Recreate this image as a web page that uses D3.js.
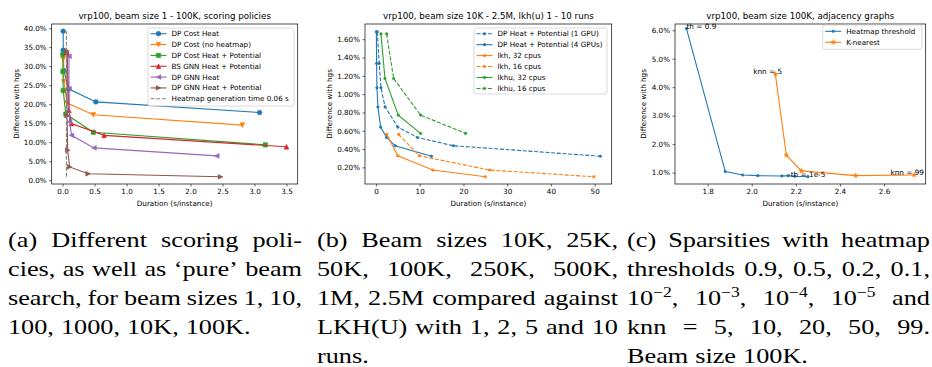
<!DOCTYPE html>
<html>
<head>
<meta charset="utf-8">
<script src="https://cdn.jsdelivr.net/npm/d3@7"></script>
<style>
  body { margin: 0; background: #fff; }
  svg text { font-family: 'DejaVu Sans', sans-serif; }
  .axis text { font-size: 7.2px; fill: #000; }
  .axis line { stroke: #000; stroke-width: 0.6; }
  svg text.caption { font-family: 'Liberation Serif', serif; font-size: 21px; fill: #000; }
</style>
</head>
<body>
<script>
// ---- (a) scoring policies, duration (s) vs gap (%)
const costHeatX = [0.01, 0.01, 0.02, 0.10, 0.52, 3.08];
const costHeatY = [39.2, 34.2, 28.8, 24.0, 20.6, 17.8];
const costNoHeatX = [0.005, 0.01, 0.02, 0.07, 0.48, 2.81];
const costNoHeatY = [32.8, 31.8, 25.9, 20.3, 17.2, 14.5];
const costPotX = [0.005, 0.005, 0.01, 0.05, 0.48, 3.17];
const costPotY = [33.1, 28.6, 23.6, 17.4, 12.6, 9.3];
const bsGnnPotX = [0.06, 0.07, 0.10, 0.14, 0.65, 3.50];
const bsGnnPotY = [34.0, 33.6, 18.4, 14.9, 11.8, 8.8];
const gnnHeatX = [0.10, 0.10, 0.11, 0.14, 0.49, 2.41];
const gnnHeatY = [32.6, 24.1, 15.4, 11.8, 8.5, 6.4];
const gnnPotX = [0.07, 0.07, 0.08, 0.11, 0.40, 2.47];
const gnnPotY = [34.0, 17.0, 7.9, 3.5, 1.7, 0.9];
const heatmapTime = 0.06;

// ---- (b) beam sizes vs lkh(u)
const gpu1X = [0.3, 0.76, 1.15, 2.1, 5.0, 9.5, 17.7, 51.3];
const gpu4X = [0.1, 0.15, 0.23, 0.46, 1.07, 2.44, 4.4, 12.7];
const gpuY = [1.68, 1.335, 1.07, 0.86, 0.64, 0.527, 0.436, 0.322];
const lkh32X = [2.5, 5.0, 13.0, 25.0];
const lkh16X = [5.2, 9.9, 26.0, 49.8];
const lkhY = [0.56, 0.327, 0.171, 0.098];
const lkhu32X = [1.15, 2.06, 5.1, 10.2];
const lkhu16X = [2.44, 4.05, 10.2, 20.5];
const lkhuY = [1.658, 1.171, 0.771, 0.571];

// ---- (c) adjacency graphs
const thX = [1.704, 1.880, 1.959, 2.028, 2.137, 2.166, 2.196, 2.255];
const thY = [6.06, 1.035, 0.918, 0.894, 0.883, 0.894, 0.871, 0.859];
const knnX = [2.107, 2.157, 2.225, 2.471, 2.737];
const knnY = [4.46, 1.61, 1.06, 0.894, 0.918];

const captionA = ['(a) Different scoring poli-', 'cies, as well as ‘pure’ beam', 'search, for beam sizes 1, 10,', '100, 1000, 10K, 100K.'];
const captionB = ['(b) Beam sizes 10K, 25K,', '50K, 100K, 250K, 500K,', '1M, 2.5M compared against', 'LKH(U) with 1, 2, 5 and 10', 'runs.'];
const captionC = ['(c) Sparsities with heatmap', 'thresholds 0.9, 0.5, 0.2, 0.1,', '10^−2, 10^−3, 10^−4, 10^−5 and', 'knn = 5, 10, 20, 50, 99.', 'Beam size 100K.'];

const BLUE = '#1f77b4', ORANGE = '#ff7f0e', GREEN = '#2ca02c', RED = '#d62728', PURPLE = '#9467bd', BROWN = '#8c564b';
const TOP = 24, BOTTOM = 184;

const svg = d3.select('body').append('svg').attr('width', 932).attr('height', 367);

function markerPath(type, r) {
  switch (type) {
    case 'o': return d3.symbol(d3.symbolCircle, Math.PI * r * r)();
    case '.': return d3.symbol(d3.symbolCircle, Math.PI * r * r)();
    case '*': return d3.symbol(d3.symbolStar, r * r / 0.8908130915292852)();
    case 's': return `M${-r},${-r}h${2 * r}v${2 * r}h${-2 * r}Z`;
    case '^': return `M0,${-r}L${r},${r}L${-r},${r}Z`;
    case 'v': return `M0,${r}L${r},${-r}L${-r},${-r}Z`;
    case '<': return `M${-r},0L${r},${-r}L${r},${r}Z`;
    case '>': return `M${r},0L${-r},${-r}L${-r},${r}Z`;
  }
  return null;
}

function makePanel(p) {
  const x = d3.scaleLinear().domain(p.xDomain).range([p.left, p.right]);
  const y = d3.scaleLinear().domain(p.yDomain).range([BOTTOM, TOP]);
  const g = svg.append('g');

  g.append('g').attr('class', 'axis')
    .attr('transform', 'translate(0,' + BOTTOM + ')')
    .call(d3.axisBottom(x).tickValues(p.xTicks).tickFormat(p.xFormat).tickSize(2.5).tickPadding(2.5).tickSizeOuter(0));
  g.append('g').attr('class', 'axis')
    .attr('transform', 'translate(' + p.left + ',0)')
    .call(d3.axisLeft(y).tickValues(p.yTicks).tickFormat(p.yFormat).tickSize(2.5).tickPadding(2.5).tickSizeOuter(0));
  g.selectAll('.domain').remove();
  g.selectAll('.axis text').attr('font-family', null);

  const plot = g.append('g');

  g.append('text')
    .attr('x', (p.left + p.right) / 2).attr('y', 18.5)
    .attr('text-anchor', 'middle').attr('font-size', 8.7)
    .text(p.title);
  g.append('text')
    .attr('x', (p.left + p.right) / 2).attr('y', 206)
    .attr('text-anchor', 'middle').attr('font-size', 7.2)
    .text('Duration (s/instance)');
  g.append('text')
    .attr('transform', `translate(${p.ylabelX},${(TOP + BOTTOM) / 2}) rotate(-90)`)
    .attr('text-anchor', 'middle').attr('font-size', 7.2)
    .text('Difference with hgs');

  return { g, plot, x, y, p };
}

function frame(panel) {
  panel.g.append('rect')
    .attr('x', panel.p.left).attr('y', TOP)
    .attr('width', panel.p.right - panel.p.left).attr('height', BOTTOM - TOP)
    .attr('fill', 'none').attr('stroke', '#000').attr('stroke-width', 0.7);
}

function drawSeries(panel, xs, ys, st) {
  const pts = xs.map((v, i) => [v, ys[i]]);
  const line = d3.line().x(d => panel.x(d[0])).y(d => panel.y(d[1]));
  panel.plot.append('path').datum(pts)
    .attr('d', line)
    .attr('fill', 'none')
    .attr('stroke', st.color)
    .attr('stroke-width', 1.1)
    .attr('stroke-dasharray', st.dash || null);
  panel.plot.selectAll(null).data(pts).enter().append('path')
    .attr('transform', d => `translate(${panel.x(d[0])},${panel.y(d[1])})`)
    .attr('d', markerPath(st.marker, st.r))
    .attr('fill', st.color)
    .attr('stroke', st.color)
    .attr('stroke-width', 0.5);
}

function legend(panel, box, rows) {
  const g = panel.g.append('g');
  g.append('rect')
    .attr('x', box[0]).attr('y', box[1]).attr('width', box[2]).attr('height', box[3])
    .attr('rx', 2).attr('fill', '#fff').attr('fill-opacity', 0.8)
    .attr('stroke', '#ccc').attr('stroke-width', 0.7);
  rows.forEach((st, i) => {
    const cy = box[4] + i * box[5];
    const x0 = box[0] + 2.5, x1 = x0 + 16;
    g.append('line')
      .attr('x1', x0).attr('x2', x1).attr('y1', cy).attr('y2', cy)
      .attr('stroke', st.color).attr('stroke-width', 1.1)
      .attr('stroke-dasharray', st.dash || null);
    if (st.marker) {
      g.append('path')
        .attr('transform', `translate(${(x0 + x1) / 2},${cy})`)
        .attr('d', markerPath(st.marker, st.r))
        .attr('fill', st.color).attr('stroke', st.color).attr('stroke-width', 0.5);
    }
    g.append('text')
      .attr('x', x1 + 5).attr('y', cy).attr('dy', '0.35em')
      .attr('font-size', 7.2)
      .text(st.label);
  });
}

// ---------- panel (a)
const pa = makePanel({
  left: 51.7, right: 297.7, xDomain: [-0.17, 3.675], yDomain: [-1.0, 41.1],
  xTicks: d3.range(0, 3.51, 0.5), yTicks: d3.range(0, 40.1, 5),
  xFormat: d3.format('.1f'), yFormat: d => d3.format('.1f')(d) + '%',
  title: 'vrp100, beam size 1 - 100K, scoring policies', ylabelX: 19
});
const seriesA = [
  { xs: costHeatX, ys: costHeatY, color: BLUE, marker: 'o', r: 2.4, label: 'DP Cost Heat' },
  { xs: costNoHeatX, ys: costNoHeatY, color: ORANGE, marker: 'v', r: 2.4, label: 'DP Cost (no heatmap)' },
  { xs: costPotX, ys: costPotY, color: GREEN, marker: 's', r: 2.2, label: 'DP Cost Heat + Potential' },
  { xs: bsGnnPotX, ys: bsGnnPotY, color: RED, marker: '^', r: 2.4, label: 'BS GNN Heat + Potential' },
  { xs: gnnHeatX, ys: gnnHeatY, color: PURPLE, marker: '<', r: 2.4, label: 'DP GNN Heat' },
  { xs: gnnPotX, ys: gnnPotY, color: BROWN, marker: '>', r: 2.4, label: 'DP GNN Heat + Potential' }
];
seriesA.forEach(s => drawSeries(pa, s.xs, s.ys, s));
const allA = [].concat(...seriesA.map(s => s.ys));
pa.plot.append('line')
  .attr('x1', pa.x(heatmapTime)).attr('x2', pa.x(heatmapTime))
  .attr('y1', pa.y(d3.min(allA))).attr('y2', pa.y(d3.max(allA)))
  .attr('stroke', 'gray').attr('stroke-width', 1.1).attr('stroke-dasharray', '4,1.7');
frame(pa);
legend(pa, [148, 28, 146, 78, 33.7, 10.85],
  seriesA.concat([{ color: 'gray', dash: '4,1.7', label: 'Heatmap generation time ' + heatmapTime + ' s' }]));

// ---------- panel (b)
const pb = makePanel({
  left: 365, right: 611.7, xDomain: [-2.5, 53.9], yDomain: [0.0185, 1.766],
  xTicks: d3.range(0, 51, 10), yTicks: d3.range(0.2, 1.61, 0.2),
  xFormat: d3.format('d'), yFormat: d => d3.format('.2f')(d) + '%',
  title: 'vrp100, beam size 10K - 2.5M, lkh(u) 1 - 10 runs', ylabelX: 332
});
const seriesB = [
  { xs: gpu1X, ys: gpuY, color: BLUE, dash: '4,1.7', label: 'DP Heat + Potential (1 GPU)' },
  { xs: gpu4X, ys: gpuY, color: BLUE, label: 'DP Heat + Potential (4 GPUs)' },
  { xs: lkh32X, ys: lkhY, color: ORANGE, label: 'lkh, 32 cpus' },
  { xs: lkh16X, ys: lkhY, color: ORANGE, dash: '4,1.7', label: 'lkh, 16 cpus' },
  { xs: lkhu32X, ys: lkhuY, color: GREEN, label: 'lkhu, 32 cpus' },
  { xs: lkhu16X, ys: lkhuY, color: GREEN, dash: '4,1.7', label: 'lkhu, 16 cpus' }
];
seriesB.forEach(s => { s.marker = '.'; s.r = 1.3; drawSeries(pb, s.xs, s.ys, s); });
frame(pb);
legend(pb, [474, 28, 133, 66, 33.7, 10.95], seriesB);

// ---------- panel (c)
const pc = makePanel({
  left: 675, right: 925.7, xDomain: [1.652, 2.789], yDomain: [0.6, 6.22],
  xTicks: d3.range(1.8, 2.61, 0.2), yTicks: d3.range(1, 6.1, 1),
  xFormat: d3.format('.1f'), yFormat: d => d3.format('.1f')(d) + '%',
  title: 'vrp100, beam size 100K, adjacency graphs', ylabelX: 646
});
const seriesC = [
  { xs: thX, ys: thY, color: BLUE, marker: '.', r: 1.3, label: 'Heatmap threshold' },
  { xs: knnX, ys: knnY, color: ORANGE, marker: '*', r: 2.6, label: 'K-nearest' }
];
seriesC.forEach(s => drawSeries(pc, s.xs, s.ys, s));
const notesC = [
  { x: thX[0], y: thY[0], text: 'th = 0.9' },
  { x: thX[thX.length - 1] - 0.078, y: thY[thY.length - 1], text: 'th = 1e-5' },
  { x: knnX[0] - 0.1, y: knnY[0], text: 'knn = 5' },
  { x: knnX[knnX.length - 1] - 0.108, y: knnY[knnY.length - 1], text: 'knn = 99' }
];
pc.plot.selectAll(null).data(notesC).enter().append('text')
  .attr('x', d => pc.x(d.x)).attr('y', d => pc.y(d.y))
  .attr('font-size', 7.3)
  .text(d => d.text);
frame(pc);
legend(pc, [822.7, 25, 99, 24.3, 31.3, 11], seriesC);

// ---------- justified captions (glyphs widened a bit to get closer to Computer Modern)
const SX = 1.25;
const capG = svg.append('g').attr('transform', `scale(${SX},1)`);

function caption(lines, x0, x1) {
  lines.forEach((line, i) => {
    const y = 247.5 + i * 29;
    const words = line.split(' ');
    const nodes = words.map(w => {
      const t = capG.append('text').attr('class', 'caption').attr('y', y);
      const m = w.match(/^(.*)\^([^,\s]+)(.*)$/);
      if (m) {
        t.append('tspan').text(m[1]);
        t.append('tspan').attr('dy', -8).attr('font-size', 14).text(m[2]);
        t.append('tspan').attr('dy', 8).text(m[3]);
      } else {
        t.text(w);
      }
      return t;
    });
    const widths = nodes.map(n => n.node().getComputedTextLength() * SX);
    const last = i === lines.length - 1;
    const gap = last || words.length < 2 ? 7 : (x1 - x0 - d3.sum(widths)) / (words.length - 1);
    let cx = x0;
    nodes.forEach((n, j) => {
      n.attr('x', cx / SX);
      n.selectAll('tspan').filter((d, k) => k === 0).attr('x', cx / SX);
      cx += widths[j] + gap;
    });
  });
}
caption(captionA, 8, 302);
caption(captionB, 317, 618);
caption(captionC, 627, 930);
</script>
</body>
</html>
